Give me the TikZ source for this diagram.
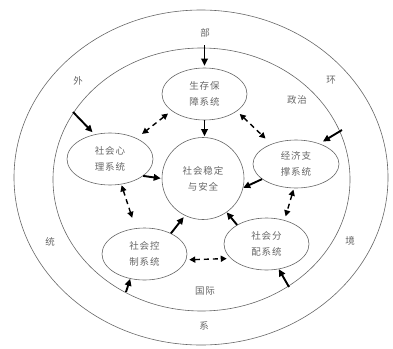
\documentclass[tikz,border=0pt]{standalone}
\usepackage{fontspec}
\setmainfont[LetterSpace=10]{Noto Sans CJK SC}
\usetikzlibrary{shapes.geometric,arrows.meta}
\begin{document}
\begin{tikzpicture}[x=1pt,y=-1pt,
  ring/.style={draw=black!60, line width=0.6pt},
  sysbox/.style={ellipse, draw=black!60, line width=0.6pt, inner sep=0pt, minimum width=85pt, minimum height=52pt, align=center, font=\fontsize{9.5}{16}\selectfont, text=black!60},
  lbl/.style={font=\fontsize{9.5}{12}\selectfont, text=black!60, inner sep=0pt},
  solidarr/.style={draw=black, line width=1.9pt, -{Triangle[length=7pt,width=6.5pt]}},
  dasharr/.style={draw=black, line width=1.4pt, dash pattern=on 5pt off 4pt, {Triangle[length=6pt,width=6pt]}-{Triangle[length=6pt,width=6pt]}},
]
\useasboundingbox (0,0) rectangle (393,348);
\draw[ring] (201,177.5) ellipse [x radius=187, y radius=167.5];
\draw[ring] (201.5,179.5) ellipse [x radius=148.5, y radius=131.5];

% labels
\node[lbl] (lbu) at (205,33) {部};
\node[lbl] (lwai) at (78,81) {外};
\node[lbl] (lhuan) at (331,80) {环};
\node[lbl] (ltong) at (50,242) {统};
\node[lbl] (ljing) at (350,241) {境};
\node[lbl] (lxi) at (204,326) {系};
\node[lbl] (lzz) at (297,100) {政治};
\node[lbl] (lgj) at (205,291) {国际};

% systems
\node[sysbox] (S) at (204.5,94) {生存保\\障系统};
\node[sysbox, minimum width=86pt, minimum height=52pt] (P) at (110,159) {社会心\\理系统};
\node[sysbox, circle, minimum size=82pt] (M) at (203,178.5) {社会稳定\\与安全};
\node[sysbox, minimum width=86pt, minimum height=48pt] (E) at (296,164) {经济支\\撑系统};
\node[sysbox] (C) at (144.5,254) {社会控\\制系统};
\node[sysbox] (D) at (266.5,244) {社会分\\配系统};

% outside influences
\coordinate (xS) at (204.5,45);
\coordinate (xP) at (73,112);
\coordinate (xE) at (342,130);
\coordinate (xC) at (126,292);
\coordinate (xD) at (289,287);
\draw[solidarr, shorten >=2pt] (xS) -- (S.north);
\draw[solidarr, shorten >=3pt] (xP) -- (P.122);
\draw[solidarr, shorten >=4pt] (xE) -- (E.41.5);
\draw[solidarr] (xC) -- (C.240);
\draw[solidarr] (xD) -- (D.296);

% into the centre
\draw[solidarr, shorten >=1pt] (S.south) -- (S.south |- M.north);
\draw[solidarr, shorten >=1pt] (P.333) -- (M.180);
\draw[solidarr] (E.204) -- (M.347);
\draw[solidarr, shorten >=2pt] (C.38) -- (M.244);
\draw[solidarr] (D.147) -- (M.305);

% mutual links
\draw[dasharr, shorten <=4.5pt, shorten >=7pt] (S.207.5) -- (P.38);
\draw[dasharr, shorten <=4pt, shorten >=8pt] (S.332) -- (E.141);
\draw[dasharr, shorten <=1pt, shorten >=11pt] (P.294) -- (C.109);
\draw[dasharr, shorten <=1.5pt, shorten >=4pt] (E.265) -- (D.53);
\draw[dasharr, shorten <=3pt, shorten >=4pt] (C.352) -- (D.202);
\end{tikzpicture}
\end{document}
